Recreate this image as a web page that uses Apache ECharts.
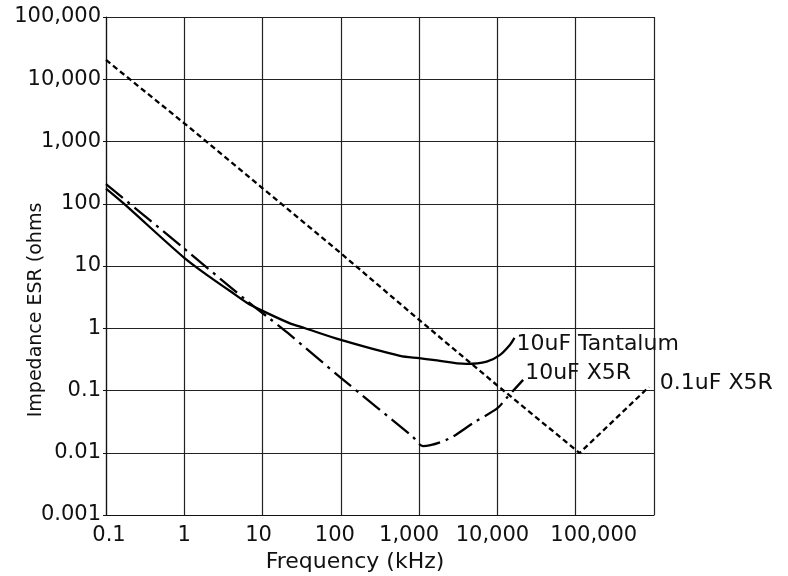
<!DOCTYPE html>
<html>
<head>
<meta charset="utf-8">
<script src="https://cdn.jsdelivr.net/npm/echarts@6/dist/echarts.min.js"></script>
<style>
  html, body { margin: 0; padding: 0; background: #fff; }
  #main { width: 788px; height: 576px; }
</style>
</head>
<body>
<div id="main"></div>
<script>
// tick labels (one per decade)
var xTickLabels = ['0.1', '1', '10', '100', '1,000', '10,000', '100,000', ''];
var yTickLabels = ['0.001', '0.01', '0.1', '1', '10', '100', '1,000', '10,000', '100,000'];

// series: frequency (kHz) / impedance (ohms)
var tantalumFreq = [0.1, 0.165, 1, 2, 3.8, 6.3, 10, 22, 35, 100, 570, 1000, 1500, 4000, 7300, 10700, 14400, 16500];
var tantalumZ    = [175, 103, 13.5, 7.0, 4.0, 2.57, 1.9, 1.21, 1.0, 0.65, 0.36, 0.33, 0.31, 0.267, 0.29, 0.37, 0.54, 0.7];

var x5r10Freq = [0.1, 1, 6.5, 12.4, 21, 100, 830, 1120, 2350, 4900, 10000, 13100, 21300];
var x5r10Z    = [207, 19, 2.67, 1.42, 0.84, 0.16, 0.018, 0.0128, 0.0166, 0.030, 0.052, 0.076, 0.148];

var x5r01Freq = [0.1, 1, 10, 100, 1000, 10000, 112000, 860000];
var x5r01Z    = [20400, 1960, 177, 16, 1.36, 0.12, 0.0099, 0.114];

function zip(a, b) {
  var out = [];
  for (var i = 0; i < a.length; i++) out.push([a[i], b[i]]);
  return out;
}

var font = 'DejaVu Sans';
var ink = '#111';

// small nudges so the x labels sit where the original put them
var xShift = [3, 0, -4, -6, -10, -5, 18, 0];
var xRich = {};
xShift.forEach(function (s, i) {
  xRich['s' + i] = {
    fontFamily: font, fontSize: 21, color: ink,
    padding: s > 0 ? [0, 0, 0, 2 * s] : [0, -2 * s, 0, 0]
  };
});

var chart = echarts.init(document.getElementById('main'), null, { renderer: 'canvas' });

var option = {
  animation: false,
  backgroundColor: '#fff',
  grid: { left: 106, right: 134, top: 17, bottom: 61, containLabel: false, outerBoundsMode: 'none' },
  xAxis: {
    type: 'log',
    logBase: 10,
    min: 0.1,
    max: 1000000,
    splitNumber: 7,
    name: 'Frequency (kHz)',
    nameLocation: 'middle',
    nameGap: 36,
    nameMoveOverlap: false,
    nameTextStyle: { fontFamily: font, fontSize: 22, color: ink, padding: [0, 50, 0, 0] },
    axisLine: { lineStyle: { color: '#111', width: 1.2 } },
    axisTick: { show: false },
    splitLine: { show: true, lineStyle: { color: '#222', width: 1.2 } },
    axisLabel: {
      margin: 10,
      formatter: function (v) {
        var i = Math.round(Math.log10(v)) + 1;
        return '{s' + i + '|' + xTickLabels[i] + '}';
      },
      rich: xRich
    }
  },
  yAxis: {
    type: 'log',
    logBase: 10,
    min: 0.001,
    max: 100000,
    splitNumber: 8,
    name: 'Impedance ESR (ohms',
    nameLocation: 'middle',
    nameGap: 60,
    nameRotate: 90,
    nameMoveOverlap: false,
    nameTextStyle: { fontFamily: font, fontSize: 19, color: ink, padding: [0, 88, 0, 0] },
    axisLine: { lineStyle: { color: '#111', width: 1.2 } },
    axisTick: { show: true, length: 3, lineStyle: { color: '#111' } },
    splitLine: { show: true, lineStyle: { color: '#222', width: 1.2 } },
    axisLabel: {
      margin: 5,
      fontFamily: font,
      fontSize: 21,
      color: ink,
      formatter: function (v) {
        return yTickLabels[Math.round(Math.log10(v)) + 3];
      }
    }
  },
  series: [
    {
      name: '10uF Tantalum',
      type: 'line',
      data: zip(tantalumFreq, tantalumZ),
      smooth: 0.3,
      symbol: 'none',
      lineStyle: { color: '#000', width: 2.3 },
      endLabel: { show: true, formatter: '{a}', distance: 2, offset: [0, 6], fontFamily: font, fontSize: 22, color: ink }
    },
    {
      name: '10uF X5R',
      type: 'line',
      data: zip(x5r10Freq, x5r10Z),
      smooth: 0.3,
      symbol: 'none',
      lineStyle: { color: '#000', width: 2.3, type: [22, 6, 3, 6] },
      endLabel: { show: true, formatter: '{a}', distance: 2, offset: [0, -7], fontFamily: font, fontSize: 22, color: ink }
    },
    {
      name: '0.1uF X5R',
      type: 'line',
      data: zip(x5r01Freq, x5r01Z),
      symbol: 'none',
      lineStyle: { color: '#000', width: 2.3, type: [5.5, 3.5] },
      endLabel: { show: true, formatter: '{a}', distance: 11, offset: [0, -4], fontFamily: font, fontSize: 22, color: ink }
    }
  ]
};

chart.setOption(option);
</script>
</body>
</html>
